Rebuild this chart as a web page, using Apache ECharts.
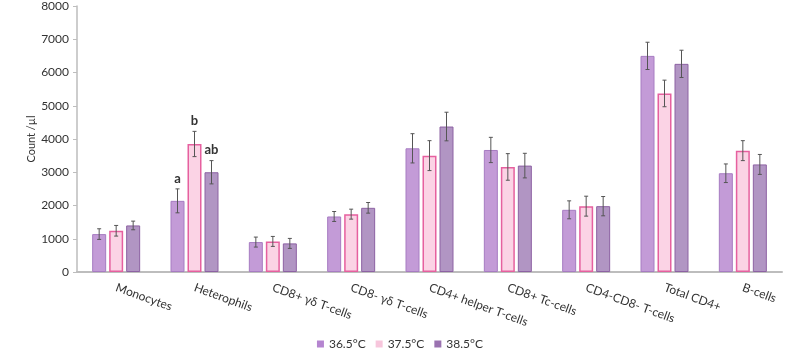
<!DOCTYPE html>
<html><head><meta charset="utf-8">
<script src="https://cdn.jsdelivr.net/npm/echarts@6/dist/echarts.min.js"></script>
<style>html,body{margin:0;padding:0;background:#fff}#c{width:800px;height:360px}</style>
</head><body><div id="c"></div>
<script>
const categories = ['Monocytes','Heterophils','CD8+ γδ T-cells','CD8- γδ T-cells','CD4+ helper T-cells','CD8+ Tc-cells','CD4-CD8- T-cells','Total CD4+','B-cells'];
const seriesNames = ['36.5°C','37.5°C','38.5°C'];
const v365 = [1140, 2140, 900, 1670, 3720, 3670, 1870, 6500, 2970];
const v375 = [1240, 3850, 920, 1740, 3500, 3160, 1980, 5370, 3650];
const v385 = [1400, 3000, 860, 1930, 4375, 3200, 1980, 6260, 3235];
const e365 = [160, 360, 150, 150, 440, 380, 270, 410, 280];
const e375 = [160, 380, 150, 150, 450, 400, 300, 400, 300];
const e385 = [130, 350, 150, 160, 430, 370, 290, 410, 300];
const l365 = ['', 'a', '', '', '', '', '', '', ''];
const l375 = ['', 'b', '', '', '', '', '', '', ''];
const l385 = ['', 'ab', '', '', '', '', '', '', ''];
const yTicks = [0,1000,2000,3000,4000,5000,6000,7000,8000];

const fills = ['#c39bd7','#fbd3e5','#b195c3'];
const borders = ['#a77cc2','#e6609f','#8d62a3'];
const legendColors = ['#b585d0','#f7c6dc','#9a72b0'];
const BW = 14, GAP = 3;
const FONT = 'Lato';

const vals = [v365, v375, v385], errs = [e365, e375, e385], lets = [l365, l375, l385];

const barSeries = vals.map((v, k) => ({
  name: seriesNames[k], type: 'bar', data: v, barWidth: BW, barGap: (GAP / BW * 100) + '%',
  itemStyle: { color: fills[k], borderColor: borders[k], borderWidth: k === 1 ? 1.5 : 1 }
}));

const errSeries = vals.map((v, k) => ({
  type: 'custom', name: seriesNames[k] + ' err', silent: true, z: 5,
  data: v.map((val, i) => [i, val, errs[k][i]]),
  renderItem: function (params, api) {
    const ci = api.value(0), val = api.value(1), e = api.value(2);
    const off = (k - 1) * (BW + GAP);
    const x = api.coord([ci, val])[0] + off;
    const yt = api.coord([ci, val + e])[1];
    const yb = api.coord([ci, val - e])[1];
    const st = { stroke: '#555', lineWidth: 1 };
    const ch = [
      { type: 'line', shape: { x1: x, y1: yt, x2: x, y2: yb }, style: st },
      { type: 'line', shape: { x1: x - 2, y1: yt, x2: x + 2, y2: yt }, style: st },
      { type: 'line', shape: { x1: x - 2, y1: yb, x2: x + 2, y2: yb }, style: st }
    ];
    const lt = lets[k][params.dataIndex];
    if (lt) ch.push({ type: 'text', x: x, y: yt - 4, style: { text: lt, fill: '#333', font: 'bold 13px ' + FONT, align: 'center', verticalAlign: 'bottom' } });
    return { type: 'group', children: ch };
  }
}));

const chart = echarts.init(document.getElementById('c'));
chart.setOption({
  animation: false,
  textStyle: { fontFamily: FONT },
  grid: { left: 77, right: 18, top: 3, bottom: 88 },
  legend: {
    data: seriesNames.map((n, k) => ({ name: n, itemStyle: { color: legendColors[k], borderWidth: 0 } })),
    bottom: 5, left: 'center', itemWidth: 7, itemHeight: 7, itemGap: 10,
    icon: 'rect', textStyle: { fontSize: 12, color: '#333', fontFamily: FONT }
  },
  xAxis: {
    type: 'category', data: categories,
    axisLine: { lineStyle: { color: '#bdbdbd', width: 2 } },
    axisTick: { show: false },
    axisLabel: { rotate: -20, color: '#333', fontSize: 12, interval: 0, margin: 15, fontFamily: FONT }
  },
  yAxis: {
    type: 'value', min: 0, max: 8000, interval: 1000,
    name: 'Count /µl', nameLocation: 'middle', nameGap: 40, nameMoveOverlap: false,
    nameTextStyle: { color: '#333', fontSize: 11, fontFamily: FONT },
    axisLine: { show: true, lineStyle: { color: '#bdbdbd', width: 1.5 } },
    axisTick: { show: true, length: 4, lineStyle: { color: '#bdbdbd' } },
    splitLine: { show: false },
    axisLabel: { color: '#333', fontSize: 12, margin: 8, fontFamily: FONT,
      formatter: function (v) { return yTicks.indexOf(v) >= 0 ? String(v) : ''; } }
  },
  series: barSeries.concat(errSeries)
});
</script></body></html>
